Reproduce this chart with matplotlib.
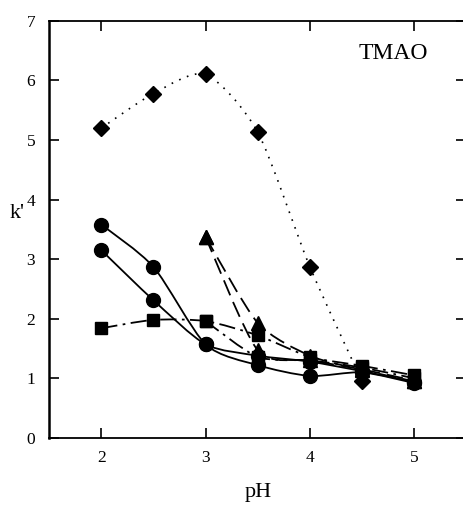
import numpy as np
import matplotlib
matplotlib.use('Agg')
import matplotlib.pyplot as plt
from matplotlib.path import Path
from matplotlib.patches import PathPatch

plt.rcParams['font.family'] = ['Liberation Serif', 'DejaVu Serif']

# 数据
ph_full = [2, 2.5, 3, 3.5, 4, 4.5, 5]
ph_from3 = [3, 3.5, 4, 4.5, 5]
ph_diamond = [2, 2.5, 3, 3.5, 4, 4.5]

k_diamond = [5.2, 5.78, 6.1, 5.13, 2.87, 0.95]
k_circle1 = [3.58, 2.87, 1.57, 1.22, 1.04, 1.1, 0.92]
k_circle2 = [3.15, 2.31, 1.57, 1.38, 1.28, 1.12, 0.94]
k_tri1 = [3.37, 1.93, 1.38, 1.14, 0.95]
k_tri2 = [3.37, 1.47, 1.3, 1.15, 0.96]
k_sq1 = [1.84, 1.98, 1.96, 1.72, 1.36, 1.21, 1.05]
k_sq2 = [1.96, 1.36, 1.3, 1.18, 1.0]

xticks = [2, 3, 4, 5]
yticks = [0, 1, 2, 3, 4, 5, 6, 7]


def smooth(ax, x, y, t=8, **kw):
    # Catmull-Rom 曲线 -> Bezier，用于平滑连线
    p = np.column_stack([x, y]).astype(float)
    pe = np.vstack([p[0], p, p[-1]])
    verts = [p[0]]
    codes = [Path.MOVETO]
    for i in range(len(p) - 1):
        p0, p1, p2, p3 = pe[i], pe[i + 1], pe[i + 2], pe[i + 3]
        verts += [p1 + (p2 - p0) / t, p2 - (p3 - p1) / t, p2]
        codes += [Path.CURVE4] * 3
    ax.add_patch(PathPatch(Path(verts, codes), fill=False, **kw))


fig = plt.figure(figsize=(4.64, 5.08), dpi=100)
ax = fig.add_axes([0.106, 0.138, 0.899, 0.821])

lw = 1.3
smooth(ax, ph_diamond, k_diamond, lw=1.2, ls=(0, (1, 4)), color='black')
smooth(ax, ph_full, k_circle1, lw=lw, color='black')
smooth(ax, ph_full, k_circle2, lw=lw, color='black')
smooth(ax, ph_from3, k_tri1, lw=lw, ls=(0, (9, 4)), color='black')
smooth(ax, ph_from3, k_tri2, lw=lw, ls=(0, (9, 4)), color='black')
smooth(ax, ph_full, k_sq1, lw=lw, ls=(0, (9, 3, 1.5, 3)), color='black')
smooth(ax, ph_from3, k_sq2, lw=lw, ls=(0, (9, 3, 1.5, 3)), color='black')

ax.plot(ph_diamond, k_diamond, 'D', ms=8.5, color='black', ls='none')
ax.plot(ph_full, k_circle1, 'o', ms=10, color='black', ls='none')
ax.plot(ph_full, k_circle2, 'o', ms=10, color='black', ls='none')
ax.plot(ph_from3, k_tri1, '^', ms=10, color='black', ls='none')
ax.plot(ph_from3, k_tri2, '^', ms=10, color='black', ls='none')
ax.plot(ph_full, k_sq1, 's', ms=9, color='black', ls='none')
ax.plot(ph_from3, k_sq2, 's', ms=9, color='black', ls='none')

ax.set_xlim(1.5, 5.5)
ax.set_ylim(0, 7)
ax.set_xticks(xticks)
ax.set_yticks(yticks)
ax.tick_params(direction='in', length=7, width=1.2, labelsize=12.5,
               top=True, right=True, pad=9)
ax.tick_params(axis='y', pad=10)
ax.spines['left'].set_linewidth(1.8)
for s in ['bottom', 'top']:
    ax.spines[s].set_linewidth(1.3)
ax.spines['right'].set_visible(False)  # 原图右边框在画面外

ax.text(4.8, 6.45, 'TMAO', fontsize=17, ha='center', va='center')
ax.set_xlabel('pH', fontsize=16, labelpad=12)
fig.text(0.037, 0.58, "k'", fontsize=16, ha='center', va='center')

fig.savefig('out.png', dpi=100)
